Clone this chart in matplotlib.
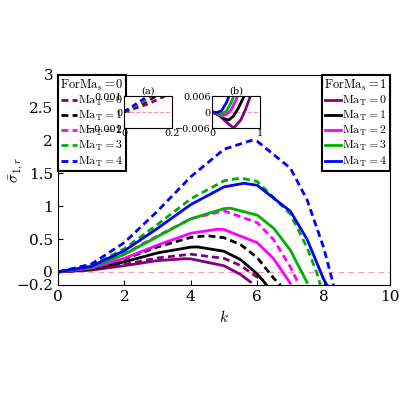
import matplotlib
matplotlib.use("Agg")
import matplotlib.pyplot as plt

plt.rcParams["font.family"] = "serif"
plt.rcParams["font.serif"] = ["DejaVu Serif"]
plt.rcParams["mathtext.fontset"] = "cm"
plt.rcParams["font.size"] = 11

colors = ["#800080", "black", "#ff00ff", "#00b000", "#0000ff"]
ma_labels = [r"$\mathrm{Ma_T}=%d$" % i for i in range(5)]

# ForMa_s = 0 (dashed)
k_d = [
    [0, 1, 2, 3, 4, 5, 5.5, 6, 6.2],
    [0, 1, 2, 3, 4, 4.5, 5, 5.5, 6, 6.5, 6.7],
    [0, 1, 2, 3, 4, 5, 6, 6.5, 7, 7.2],
    [0, 1, 2, 3, 4, 5, 5.5, 6, 7, 7.5, 7.8, 7.9],
    [0, 1, 2, 3, 4, 5, 5.8, 6, 7, 7.5, 8, 8.3],
]
s_d = [
    [0, .031, .113, .212, .269, .206, .097, -.081, -.13],
    [0, .053, .196, .38, .526, .55, .52, .416, .217, -.099, -.2],
    [0, .073, .274, .549, .809, .93, .75, .487, .073, -.135],
    [0, .093, .353, .724, 1.113, 1.387, 1.43, 1.378, .88, .372, -.02, -.2],
    [0, .117, .447, .927, 1.45, 1.868, 2.0, 1.99, 1.58, 1.10, .373, -.2],
]
# ForMa_s = 1 (solid)
k_s = [
    [0, 1, 2, 3, 3.8, 4, 5, 5.5, 5.8],
    [0, 1, 2, 3, 4, 4.2, 5, 5.5, 6, 6.3],
    [0, 1, 2, 3, 4, 4.8, 5, 6, 6.5, 7],
    [0, 1, 2, 3, 4, 5, 5.2, 6, 6.5, 7, 7.5],
    [0, 1, 2, 3, 4, 5, 5.6, 6, 7, 7.5, 8, 8.1],
]
s_s = [
    [0, .027, .095, .172, .2, .198, .093, -.04, -.154],
    [0, .042, .153, .289, .377, .38, .314, .186, -.031, -.21],
    [0, .055, .206, .408, .589, .65, .645, .444, .198, -.176],
    [0, .070, .266, .538, .808, .964, .97, .864, .663, .33, -.16],
    [0, .085, .322, .664, 1.026, 1.295, 1.35, 1.32, .923, .499, -.11, -.2],
]

# inset (a): small-k dashed
ka = [[0, .1, .2], [0, .1, .2], [0, .1, .2], [0, .1, .2], [0, .1, .2]]
sa = [[0, .0005, .0012], [0, .0007, .0016], [0, .0008, .002], [0, .0009, .0022], [0, .001, .0025]]
# inset (b): small-k solid
kb = [
    [0, .15, .3, .45, .6, .7, .8, .9],
    [0, .15, .25, .35, .45, .55, .67, .75],
    [0, .1, .2, .3, .4, .5, .6],
    [0, .1, .2, .3, .4, .5],
    [0, .1, .2, .3, .4],
]
sb = [
    [0, -.0012, -.0038, -.006, -.003, .001, .006, .012],
    [0, -.0012, -.0025, -.003, -.0015, .0015, .006, .01],
    [0, -.0006, -.0014, -.001, .0008, .0045, .009],
    [0, -.0004, -.0007, .0003, .0035, .008],
    [0, -.0002, .0005, .0035, .008],
]

fig = plt.figure(figsize=(4, 4), dpi=100)
ax = fig.add_axes([0.145, 0.2875, 0.83, 0.525])
ax.axhline(0, color="#ff9999", lw=0.8, ls="--", dashes=(5, 4))
hd, hs = [], []
for i in range(5):
    h, = ax.plot(k_d[i], s_d[i], color=colors[i], lw=2, ls="--", dashes=(2.5, 1.5))
    hd.append(h)
    h, = ax.plot(k_s[i], s_s[i], color=colors[i], lw=2)
    hs.append(h)
ax.set_xlim(0, 10)
ax.set_ylim(-0.2, 3)
ax.set_xticks([0, 2, 4, 6, 8, 10])
ax.set_yticks([-0.2, 0, 0.5, 1, 1.5, 2, 2.5, 3])
ax.set_yticklabels(["\u22120.2", "0", "0.5", "1", "1.5", "2", "2.5", "3"])
ax.tick_params(direction="in")
ax.set_xlabel(r"$k$")
ax.set_ylabel(r"$\bar{\sigma}_{1,r}$")
ax.yaxis.set_label_coords(-0.1, 0.55)

kw = dict(fontsize=8.5, frameon=True, fancybox=False, edgecolor="black",
          handlelength=1.3, handletextpad=0.1, borderpad=0.2, labelspacing=0.1,
          borderaxespad=0.0, framealpha=1)
l1 = ax.legend(hd, ma_labels, loc="upper left", title=r"$\mathrm{ForMa_s}=0$",
               title_fontsize=9, **kw)
l1.get_frame().set_linewidth(1.5)
ax.add_artist(l1)
l2 = ax.legend(hs, ma_labels, loc="upper right", title=r"$\mathrm{ForMa_s}=1$",
               title_fontsize=9, **kw)
l2.get_frame().set_linewidth(1.5)

axa = fig.add_axes([0.31, 0.68, 0.12, 0.08])
axa.axhline(0, color="#ff9999", lw=0.8, ls="--")
for i in range(5):
    axa.plot(ka[i], sa[i], color=colors[i], lw=2, ls="--", dashes=(2, 1.5))
axa.set_xlim(0, 0.2)
axa.set_ylim(-0.001, 0.001)
axa.set_xticks([0, 0.2])
axa.set_xticklabels(["0", "0.2"])
axa.set_yticks([-0.001, 0, 0.001])
axa.set_yticklabels(["\u22120.001", "0", "0.001"])
axa.set_title("(a)", fontsize=7, pad=1)
axa.tick_params(labelsize=7, direction="in", pad=1)

axb = fig.add_axes([0.53, 0.68, 0.12, 0.08])
axb.axhline(0, color="#ff9999", lw=0.8, ls="--")
for i in range(5):
    axb.plot(kb[i], sb[i], color=colors[i], lw=2)
axb.set_xlim(0, 1)
axb.set_ylim(-0.006, 0.006)
axb.set_xticks([0, 1])
axb.set_yticks([-0.006, 0, 0.006])
axb.set_yticklabels(["\u22120.006", "0", "0.006"])
axb.set_title("(b)", fontsize=7, pad=1)
axb.tick_params(labelsize=7, direction="in", pad=1)

fig.savefig("out.png", dpi=100)
